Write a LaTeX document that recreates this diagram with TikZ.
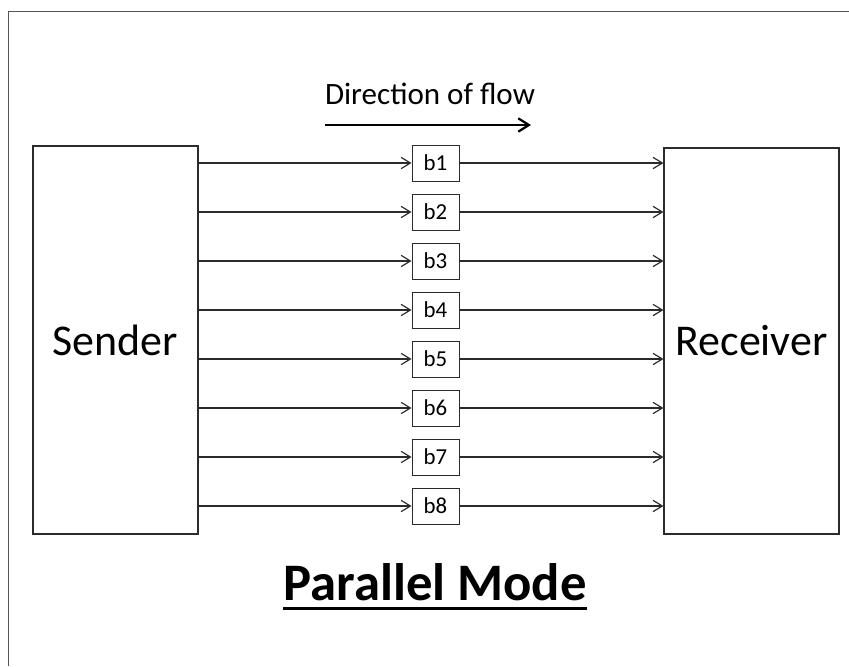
\documentclass[tikz,border=0pt]{standalone}
\usepackage{fontspec}
\setmainfont{Carlito}
\usepackage{tikz}
\usetikzlibrary{arrows.meta,positioning}
\definecolor{ink}{HTML}{2B2B2B}
\definecolor{frame}{HTML}{555555}
\tikzset{
  endbox/.style={draw=ink,line width=0.9pt,fill=white,
    font=\fontsize{37.5}{40}\selectfont},
  bitbox/.style={draw=ink,line width=0.8pt,minimum width=14.1mm,
    minimum height=10.8mm,inner sep=0pt,font=\fontsize{19.5}{22}\selectfont},
  arrow/.style={-{Straight Barb[length=2.8mm,width=3.4mm]},line width=1pt,draw=ink},
  bigarrow/.style={-{Straight Barb[length=3.2mm,width=4mm]},line width=1.9pt,draw=black},
  tag/.style={font=\fontsize{26.5}{30}\selectfont,inner sep=0pt}
}
\begin{document}
\begin{tikzpicture}[x=0.3mm,y=-0.3mm]
  \useasboundingbox (0,0) rectangle (849,666);
  % outer frame
  \draw[frame,line width=0.8pt] (849,11) -- (8,11) -- (8,666);
  \node[endbox,minimum width=49.5mm,minimum height=116.4mm] (sender) at (115.5,340) {Sender};
  \node[endbox,minimum width=52.5mm,minimum height=115.8mm] (receiver) at (751.5,341) {Receiver};
  \node[tag] (dir) at (430,94) {Direction of flow};
  \coordinate (flowL) at (325,125);
  \coordinate (flowR) at (531,125);
  \draw[bigarrow] (flowL) -- (flowR);
  \foreach \i in {1,...,8}{
    \node[bitbox] (b\i) at (435.5,{163+49*(\i-1)}) {b\i};
    \draw[arrow] (sender.east |- b\i) -- (b\i);
    \draw[arrow] (b\i) -- (receiver.west |- b\i);
  }
  \node[inner sep=0pt,anchor=base,font=\fontsize{45}{50}\selectfont\bfseries] (title) at (435,600) {Parallel Mode};
  \draw[line width=1.1mm] ([yshift=-2.5mm]title.base west) -- ([yshift=-2.5mm]title.base east);
\end{tikzpicture}
\end{document}
